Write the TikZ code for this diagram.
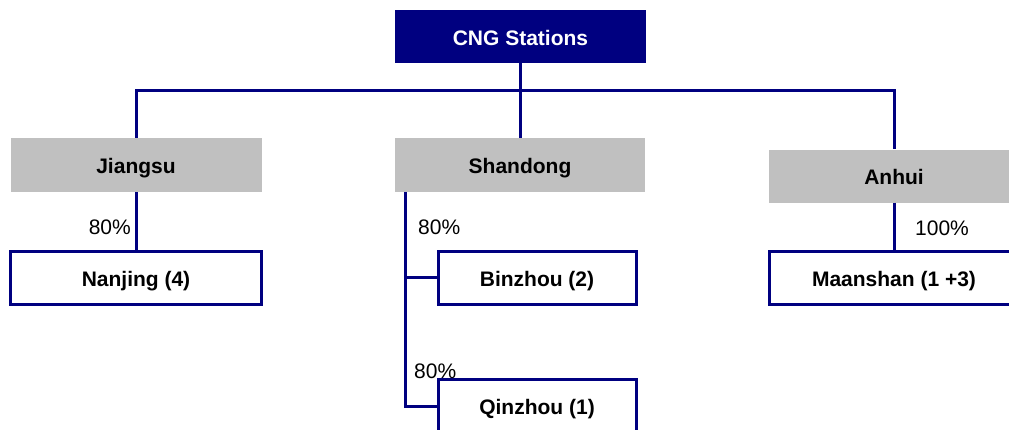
\documentclass[tikz,border=0pt]{standalone}
\usepackage{fontspec}
\setmainfont{Liberation Sans}
\definecolor{navy}{HTML}{000080}
\definecolor{boxgray}{HTML}{C0C0C0}
\begin{document}
\begin{tikzpicture}[x=1pt,y=-1pt,
  base/.style={font=\fontsize{21}{25}\selectfont\bfseries, inner sep=0pt, anchor=center, text height=17pt, text depth=0pt},
  top/.style={base, fill=navy, text=white, minimum width=251pt, minimum height=53pt},
  region/.style={base, fill=boxgray, text=black, minimum width=251pt, minimum height=54pt},
  city/.style={base, draw=navy, line width=3pt, fill=white, minimum height=53pt},
  link/.style={draw=navy, line width=3pt},
  pct/.style={font=\fontsize{21}{25}\selectfont, inner sep=0pt}]
\useasboundingbox (0,0) rectangle (1009,429);
\clip (0,0) rectangle (1009,429);
\fill[white] (0,0) rectangle (1009,429);
\coordinate (bus) at (520,90);
\node[top] (cng) at (520.5,36.5) {CNG Stations};
\node[region] (jiangsu) at (136,165) {Jiangsu};
\node[region, minimum width=250pt] (shandong) at (520,165) {Shandong};
\node[region, minimum width=250pt, minimum height=53pt] (anhui) at (894,176) {Anhui};
\coordinate (sd) at (405,192);
\draw[link] (cng.south -| bus) -- (bus);
\draw[link] (jiangsu.north) |- (anhui.north |- bus) -- (anhui.north);
\draw[link] (bus) -- (shandong.north);
\node[city, minimum width=251pt] (nanjing) at (136,277.5) {Nanjing (4)};
\node[city, minimum width=198pt] (binzhou) at (537,277.5) {Binzhou (2)};
\node[city, minimum width=250pt] (maanshan) at (894,277.5) {Maanshan (1 +3)};
\node[city, minimum width=198pt, minimum height=54pt] (qinzhou) at (537,406) {Qinzhou (1)};
\draw[link] (jiangsu.south) -- (nanjing.north);
\draw[link] (anhui.south) -- (maanshan.north);
\draw[link] (sd) |- (qinzhou.west);
\draw[link] (sd |- binzhou.west) -- (binzhou.west);
\node[pct, anchor=east] (p1) at (131,227) {80\%};
\node[pct, anchor=west] (p2) at (418,227) {80\%};
\node[pct, anchor=west] (p3) at (414,371) {80\%};
\node[pct, anchor=west] (p4) at (915,228) {100\%};
\end{tikzpicture}
\end{document}
